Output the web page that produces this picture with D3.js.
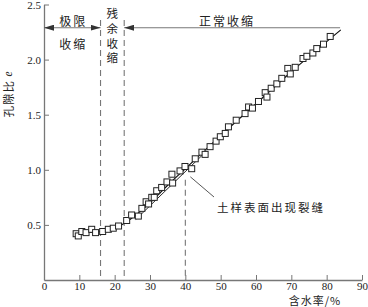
<!DOCTYPE html>
<html>
<head>
<meta charset="utf-8">
<script src="https://cdn.jsdelivr.net/npm/d3@7"></script>
<style>
  body { margin: 0; background: #fff; }
  svg text { font-family: "Liberation Serif", "Noto Sans CJK SC", serif; fill: #222; }
  .cjk { font-family: "Noto Sans CJK SC", sans-serif; }
</style>
</head>
<body>
<script>
// measured points: water content (%) and void ratio e
const water = [9.1, 9.7, 10.7, 11.9, 13.5, 14.6, 16.6, 18.2, 19.6, 21.1, 23.4, 24.8, 26.7, 27.7, 28.9, 29.6,
  30.5, 31.2, 31.9, 33.3, 34.8, 36.2, 36.4, 38.5, 39.9, 41.8, 42.8, 44.7, 45.6, 47.0, 48.7, 49.9, 51.3,
  52.2, 54.4, 56.9, 57.9, 59.0, 60.7, 62.6, 63.1, 64.3, 65.9, 67.3, 69.0, 69.7, 71.1, 73.3, 74.4, 76.1,
  77.2, 79.1, 81.0];
const voidRatio = [0.42, 0.40, 0.44, 0.43, 0.46, 0.43, 0.44, 0.46, 0.47, 0.49, 0.54, 0.59, 0.58, 0.65, 0.71, 0.69,
  0.75, 0.75, 0.81, 0.84, 0.89, 0.96, 0.88, 0.99, 1.03, 1.01, 1.10, 1.16, 1.14, 1.21, 1.26, 1.30, 1.33,
  1.39, 1.45, 1.51, 1.57, 1.56, 1.62, 1.70, 1.66, 1.74, 1.78, 1.83, 1.92, 1.87, 1.93, 2.01, 2.03, 2.06,
  2.10, 2.14, 2.21];

// fitted curve
const curveW = [8.5, 12, 16, 20, 23, 26, 30, 35, 40, 50, 60, 70, 84];
const curveE = [0.43, 0.43, 0.44, 0.47, 0.52, 0.59, 0.70, 0.86, 1.01, 1.31, 1.60, 1.89, 2.27];
// secondary straight trend
const lineW = [26, 46];
const lineE = [0.55, 1.17];

const xTicks = [0, 10, 20, 30, 40, 50, 60, 70, 80, 90];
const yTicks = [0.5, 1.0, 1.5, 2.0, 2.5];
const bounds = [16, 22.7, 40];   // dashed boundary lines

const width = 368, height = 307;
const margin = { top: 4.5, right: 6, bottom: 27, left: 44 };

const svg = d3.select("body").append("svg")
  .attr("width", width)
  .attr("height", height);

const x = d3.scaleLinear().domain([0, 90]).range([margin.left, width - margin.right]);
const y = d3.scaleLinear().domain([0, 2.5]).range([height - margin.bottom, margin.top]);

const axisColor = "#777";

// axes
const gx = svg.append("g")
  .attr("transform", `translate(0, ${y(0)})`)
  .call(d3.axisBottom(x).tickValues(xTicks).tickSizeInner(-5).tickSizeOuter(0).tickPadding(2));
const gy = svg.append("g")
  .attr("transform", `translate(${x(0)}, 0)`)
  .call(d3.axisLeft(y).tickValues(yTicks).tickSizeInner(-5).tickSizeOuter(0).tickPadding(3)
    .tickFormat(d3.format(".1f")));
[gx, gy].forEach(g => {
  g.select(".domain").attr("stroke", axisColor).attr("stroke-width", 1.3);
  g.selectAll(".tick line").attr("stroke", axisColor);
  g.selectAll("text").attr("font-size", 11).attr("fill", "#333")
    .style("font-family", "Liberation Serif");
});

// dashed boundaries
const dashTop = [20, 20, 1.0];
bounds.forEach((b, i) => {
  svg.append("line")
    .attr("x1", x(b)).attr("x2", x(b))
    .attr("y1", i < 2 ? dashTop[i] : y(dashTop[i]) + 10)
    .attr("y2", y(0))
    .attr("stroke", "#777").attr("stroke-width", 1.1)
    .attr("stroke-dasharray", "6,4");
});

// arrows
const defs = svg.append("defs");
defs.append("marker").attr("id", "ah")
  .attr("viewBox", "0 0 10 6").attr("refX", 10).attr("refY", 3)
  .attr("markerWidth", 10).attr("markerHeight", 6)
  .attr("markerUnits", "userSpaceOnUse")
  .attr("orient", "auto-start-reverse")
  .append("path").attr("d", "M0,0L10,3L0,6Z").attr("fill", "#333");

const arrowY = 27.7;
svg.append("line")
  .attr("x1", x(0)).attr("x2", x(bounds[0])).attr("y1", arrowY).attr("y2", arrowY)
  .attr("stroke", "#777").attr("stroke-width", 1.1)
  .attr("marker-start", "url(#ah)").attr("marker-end", "url(#ah)");
svg.append("line")
  .attr("x1", x(bounds[1])).attr("x2", x(83.8)).attr("y1", arrowY).attr("y2", arrowY)
  .attr("stroke", "#777").attr("stroke-width", 1.1)
  .attr("marker-start", "url(#ah)");

// stage labels
const cjk = (t, px, py, size) => svg.append("text").attr("class", "cjk")
  .attr("x", px).attr("y", py).attr("text-anchor", "middle")
  .attr("dominant-baseline", "central").attr("font-size", size || 12)
  .attr("letter-spacing", 2).attr("fill", "#222").text(t);

cjk("极限", (x(0) + x(bounds[0])) / 2 + 1, 20);
cjk("收缩", (x(0) + x(bounds[0])) / 2 + 1, 43);
["残", "余", "收", "缩"].forEach((c, i) =>
  cjk(c, (x(bounds[0]) + x(bounds[1])) / 2, 13 + i * 14.8, 11.5).attr("letter-spacing", 0));
cjk("正常收缩", 227, 20);

// fitted curve
const line = d3.line().x(d => x(d[0])).y(d => y(d[1])).curve(d3.curveMonotoneX);
svg.append("path")
  .datum(curveW.map((w, i) => [w, curveE[i]]))
  .attr("d", line)
  .attr("fill", "none").attr("stroke", "#111").attr("stroke-width", 1.2);
svg.append("path")
  .datum(lineW.map((w, i) => [w, lineE[i]]))
  .attr("d", d3.line().x(d => x(d[0])).y(d => y(d[1])))
  .attr("fill", "none").attr("stroke", "#111").attr("stroke-width", 0.9);

// markers
const s = 6;
svg.append("g").selectAll("rect")
  .data(water.map((w, i) => [w, voidRatio[i]]))
  .join("rect")
  .attr("x", d => x(d[0]) - s / 2)
  .attr("y", d => y(d[1]) - s / 2)
  .attr("width", s).attr("height", s)
  .attr("fill", "#fff").attr("stroke", "#222").attr("stroke-width", 1);

// crack annotation
svg.append("line")
  .attr("x1", x(40) + 5).attr("y1", y(1.0) + 7)
  .attr("x2", 214).attr("y2", 197)
  .attr("stroke", "#444").attr("stroke-width", 0.9);
cjk("土样表面出现裂缝", 217, 207, 11.5).attr("text-anchor", "start");

// axis titles
svg.append("text").attr("class", "cjk")
  .attr("transform", `translate(8, 94) rotate(-90)`)
  .attr("text-anchor", "middle").attr("dominant-baseline", "central")
  .attr("font-size", 11.5).attr("letter-spacing", 1)
  .text("孔隙比 ")
  .append("tspan").attr("font-style", "italic").style("font-family", "Liberation Serif").text("e");

svg.append("text").attr("class", "cjk")
  .attr("x", 315).attr("y", 300)
  .attr("text-anchor", "middle").attr("dominant-baseline", "central")
  .attr("font-size", 11).attr("letter-spacing", 1)
  .text("含水率/%");
</script>
</body>
</html>
